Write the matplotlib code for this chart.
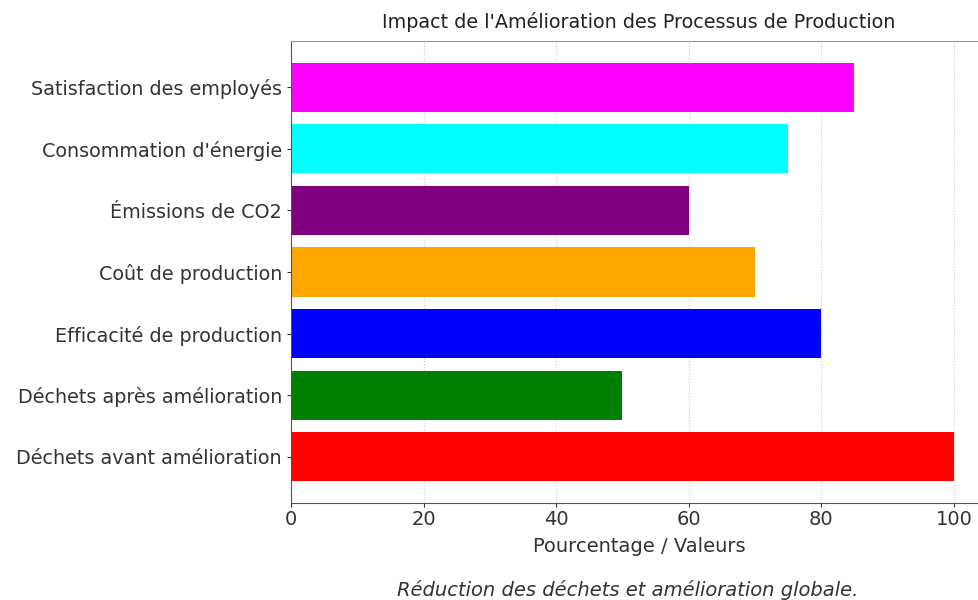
import matplotlib.pyplot as plt

labels = ["Déchets avant amélioration", "Déchets après amélioration",
          "Efficacité de production", "Coût de production",
          "Émissions de CO2", "Consommation d'énergie",
          "Satisfaction des employés"]
values = [100, 50, 80, 70, 60, 75, 85]
colors = ["red", "green", "blue", "orange", "purple", "cyan", "magenta"]

plt.rcParams['font.family'] = ['DejaVu Sans']

fig = plt.figure(figsize=(9.79, 6), dpi=100)
ax = fig.add_axes([0.2972, 0.1617, 0.711, 0.77])

ax.barh(labels, values, color=colors, height=0.8, zorder=2)
ax.set_xlim(0, 105)
ax.set_ylim(-0.75, 6.75)
ax.grid(axis='x', linestyle=':', color='#cccccc', linewidth=0.8, zorder=0)

for side in ['left', 'bottom']:
    ax.spines[side].set_color('#555555')
ax.spines['top'].set_color('#999999')
ax.spines['right'].set_visible(False)

ax.tick_params(axis='y', labelsize=13.8, colors='#333333', length=3)
ax.tick_params(axis='x', labelsize=14, colors='#333333', length=3, pad=2)
ax.set_xlabel('Pourcentage / Valeurs', fontsize=14, color='#333333', labelpad=6)
ax.set_title("Impact de l'Amélioration des Processus de Production",
             fontsize=13.8, color='#222222', pad=9)

fig.text(628 / 979, 1 - 590 / 600, 'Réduction des déchets et amélioration globale.',
         ha='center', va='center', fontsize=14, style='italic', color='#333333')

fig.savefig('out.png', dpi=100)
